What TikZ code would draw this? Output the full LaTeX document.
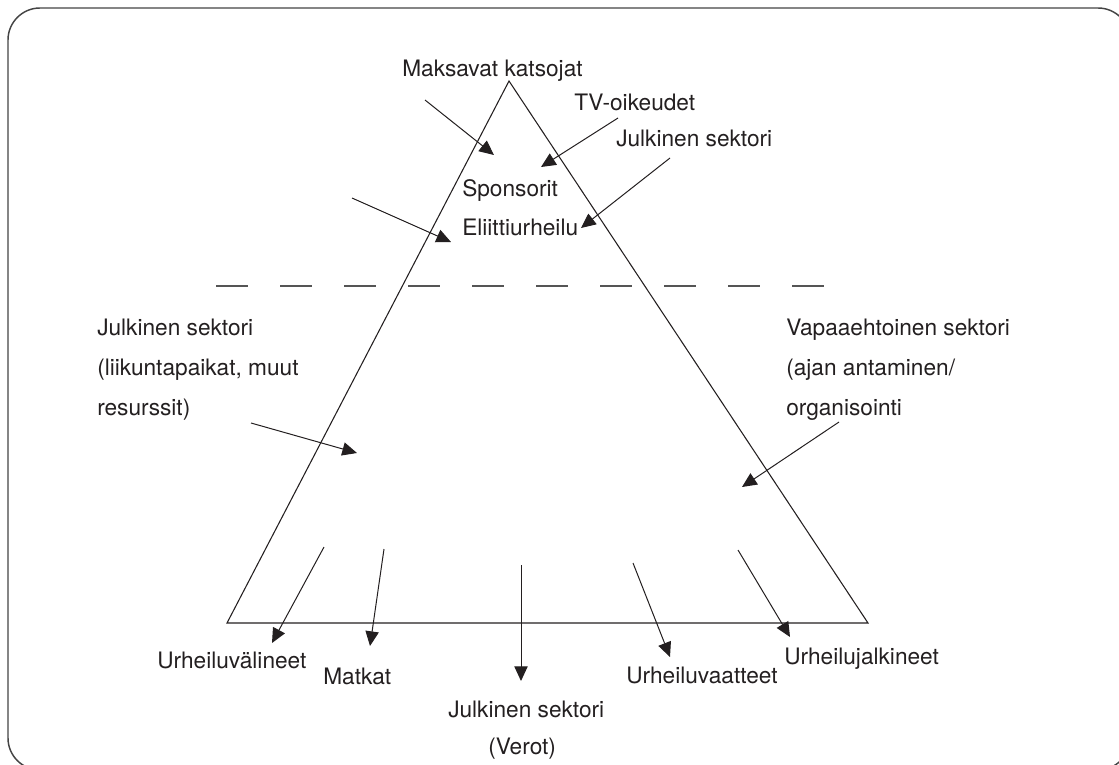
\documentclass[tikz,border=0pt]{standalone}
\usepackage{fontspec}
\setmainfont{TeX Gyre Heros}
\usetikzlibrary{arrows.meta}
\definecolor{txt}{HTML}{231F20}
\definecolor{frame}{HTML}{444444}
\definecolor{dashc}{HTML}{555555}
\begin{document}
\begin{tikzpicture}[x=0.75pt,y=-0.75pt,
  lbl/.style={anchor=base west, inner sep=0pt, text=txt, font=\fontsize{17}{20}\selectfont},
  arr/.style={line width=0.75pt, draw=txt, -{Triangle[length=11pt,width=10pt]}},
  edgeline/.style={line width=0.8pt, draw=txt},
  dashline/.style={line width=0.9pt, draw=dashc, dash pattern=on 24pt off 24pt}]
\useasboundingbox (0,0) rectangle (1119,764);
\draw[line width=1.1pt, draw=frame, rounded corners=24pt] (8,8) rectangle (1130,770);
% triangle
\coordinate (apex) at (509,81);
\coordinate (bl) at (227,623);
\coordinate (br) at (868,623);
\draw[edgeline] (apex) -- (bl) -- (br) -- cycle;
% dashed divider
\coordinate (d1) at (216,286);
\coordinate (d2) at (825,286);
\draw[dashline] (d1) -- (d2);
% labels
\node[lbl] (maks) at (402,76) {Maksavat katsojat};
\node[lbl] (tv) at (574,110) {TV-oikeudet};
\node[lbl] (jst) at (616,146) {Julkinen sektori};
\node[lbl] (spon) at (462,196) {Sponsorit};
\node[lbl] (elit) at (462,235) {Eliittiurheilu};
\node[lbl] (jl1) at (97,335) {Julkinen sektori};
\node[lbl] (jl2) at (97,375) {(liikuntapaikat, muut};
\node[lbl] (jl3) at (97,415) {resurssit)};
\node[lbl] (va1) at (786,335) {Vapaaehtoinen sektori};
\node[lbl] (va2) at (786,375) {(ajan antaminen/};
\node[lbl] (va3) at (786,415) {organisointi};
\node[lbl] (uv) at (157,668) {Urheiluvälineet};
\node[lbl] (mat) at (323,684) {Matkat};
\node[lbl] (jb1) at (448,717) {Julkinen sektori};
\node[lbl] (jb2) at (488,754) {(Verot)};
\node[lbl] (uva) at (626,683) {Urheiluvaatteet};
\node[lbl] (uja) at (784,664) {Urheilujalkineet};
% arrow end points
\coordinate (a1s) at (425,100); \coordinate (a1e) at (494,155);
\coordinate (a2s) at (618,118); \coordinate (a2e) at (541,167);
\coordinate (a3s) at (670,158); \coordinate (a3e) at (581,228);
\coordinate (a4s) at (352,198); \coordinate (a4e) at (451,242);
\coordinate (a5s) at (251,423); \coordinate (a5e) at (357,453);
\coordinate (a6s) at (839,422); \coordinate (a6e) at (742,487);
\coordinate (a7s) at (324,547); \coordinate (a7e) at (272,643);
\coordinate (a8s) at (384,549); \coordinate (a8e) at (370,646);
\coordinate (a9s) at (521,565); \coordinate (a9e) at (521,681);
\coordinate (a10s) at (633,563); \coordinate (a10e) at (670,657);
\coordinate (a11s) at (738,550); \coordinate (a11e) at (790,637);
\foreach \i in {1,...,11} {\draw[arr] (a\i s) -- (a\i e);}
\end{tikzpicture}
\end{document}
